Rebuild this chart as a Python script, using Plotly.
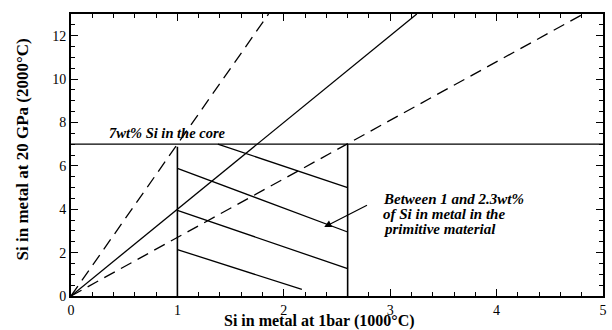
import plotly.graph_objects as go

# Partition lines through origin (slope = Si20GPa / Si1bar)
ratio_labels = ["steep", "mid", "shallow"]
ratio_slopes = [7.0, 4.0, 2.7]
ratio_dash = ["12px,7px", "solid", "12px,7px"]

# Core constraint
core_si = 7.0

# Bounds of primitive material Si (x) with their top y
bound_x = [1.0, 2.6]
bound_top = [6.88, 7.0]

# Hatch lines (x0, y0) -> (x1, y1)
hatch_x0 = [1.38, 1.0, 1.0, 1.0]
hatch_y0 = [7.0, 5.88, 3.95, 2.14]
hatch_x1 = [2.6, 2.6, 2.6, 2.17]
hatch_y1 = [5.0, 2.95, 1.26, 0.3]

# Annotation text lines
note_lines = ["Between 1 and 2.3wt%", "of Si in metal in the", "primitive material"]
note_y = [4.45, 3.77, 3.11]

x_range = [0, 5]
y_range = [0, 13]
x_ticks = [0, 1, 2, 3, 4, 5]
y_ticks = [0, 2, 4, 6, 8, 10, 12]

FONT = "'Liberation Serif', 'Times New Roman', Times, serif"
LW = 1.3

fig = go.Figure()

for s, d in zip(ratio_slopes, ratio_dash):
    xe = y_range[1] / s
    fig.add_trace(go.Scatter(x=[0, xe], y=[0, y_range[1]], mode="lines",
                             line=dict(color="black", width=LW, dash=d),
                             showlegend=False, hoverinfo="skip"))

fig.add_trace(go.Scatter(x=x_range, y=[core_si, core_si], mode="lines",
                         line=dict(color="black", width=LW), showlegend=False))

for bx, bt in zip(bound_x, bound_top):
    fig.add_trace(go.Scatter(x=[bx, bx], y=[0, bt], mode="lines",
                             line=dict(color="black", width=1.6), showlegend=False))

for x0, y0, x1, y1 in zip(hatch_x0, hatch_y0, hatch_x1, hatch_y1):
    fig.add_trace(go.Scatter(x=[x0, x1], y=[y0, y1], mode="lines",
                             line=dict(color="black", width=LW), showlegend=False))

fig.add_annotation(x=0.34, y=core_si, xref="x", yref="y", text="<b><i>7wt% Si in the core</i></b>",
                   showarrow=False, xanchor="left", yanchor="bottom", yshift=1,
                   font=dict(family=FONT, size=14.5, color="black"))

fig.add_annotation(x=2.38, y=3.18, ax=2.796, ay=4.22, xref="x", yref="y", axref="x", ayref="y",
                   text="", showarrow=True, arrowhead=2, arrowsize=1.2, arrowwidth=1.2,
                   arrowcolor="black")
for t, yy in zip(note_lines, note_y):
    fig.add_annotation(x=2.91, y=yy, xref="x", yref="y", text="<b><i>" + t + "</i></b>",
                       showarrow=False, xanchor="left", yanchor="middle", align="left",
                       font=dict(family=FONT, size=15, color="black"))

fig.add_annotation(x=0.467, y=-0.088, xref="paper", yref="paper",
                   text="<b>Si in metal at 1bar (1000°C)</b>", showarrow=False,
                   xanchor="center", yanchor="middle", font=dict(family=FONT, size=16, color="black"))
fig.add_annotation(x=-0.092, y=0.52, xref="paper", yref="paper",
                   text="<b>Si in metal at 20 GPa (2000°C)</b>", showarrow=False, textangle=-90,
                   xanchor="center", yanchor="middle", font=dict(family=FONT, size=17, color="black"))

axis_common = dict(showgrid=False, zeroline=False, showline=True, linecolor="black", linewidth=2,
                   mirror="allticks", ticks="inside", ticklen=7, tickwidth=1.3, tickcolor="black",
                   tickfont=dict(family=FONT, size=14, color="black"))

fig.update_xaxes(range=x_range, tickvals=x_ticks, **axis_common,
                 minor=dict(dtick=0.2, ticks="inside", ticklen=4, tickwidth=1.2, tickcolor="black"))
fig.update_yaxes(range=y_range, tickvals=y_ticks, **axis_common,
                 minor=dict(dtick=0.5, ticks="inside", ticklen=4, tickwidth=1.2, tickcolor="black"))

fig.update_layout(width=612, height=330, margin=dict(l=71, r=5, t=14, b=34),
                  font=dict(family=FONT, color="black"),
                  plot_bgcolor="white", paper_bgcolor="white", showlegend=False)

fig.write_html("out.html")
